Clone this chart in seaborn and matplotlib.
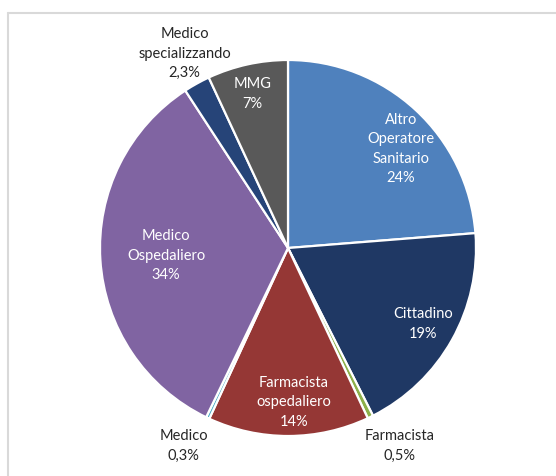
import numpy as np
import matplotlib
matplotlib.use("Agg")
import matplotlib.pyplot as plt
from matplotlib.lines import Line2D
import seaborn as sns

# Share of respondents by professional category (%)
categories = ["Altro\nOperatore\nSanitario", "Cittadino", "Farmacista",
              "Farmacista\nospedaliero", "Medico", "Medico\nOspedaliero",
              "Medico\nspecializzando", "MMG"]
shares = [24, 19, 0.5, 14, 0.3, 34, 2.3, 7]
share_labels = ["24%", "19%", "0,5%", "14%", "0,3%", "34%", "2,3%", "7%"]

colors = ["#4F81BD", "#1F3864", "#8DB04A", "#953735", "#4BACC6",
          "#8064A2", "#264478", "#595959"]
# label placement: radius (fraction of pie radius), angular nudge (deg), inside?
label_radius = [0.80, 0.825, 1.21, 0.82, 1.19, 0.65, 1.17, 0.84]
label_nudge = [6, 0, -3.5, -2, 2.5, 0, 1, -0.5]
label_inside = [True, True, False, True, False, True, False, True]

sns.set_theme(style="white")
plt.rcParams["font.family"] = ["Lato", "DejaVu Sans"]

W, H = 556, 476
fig = plt.figure(figsize=(W / 100, H / 100), dpi=100)
fig.patch.set_facecolor("white")

cx, cy, R = 288, 248, 188
ax = fig.add_axes([(cx - R) / W, (H - cy - R) / H, 2 * R / W, 2 * R / H])

wedges, _ = ax.pie(shares, colors=colors, startangle=90, counterclock=False,
                   radius=1.0, center=(0, 0),
                   wedgeprops=dict(edgecolor="white", linewidth=1.6))
ax.set_xlim(-1, 1)
ax.set_ylim(-1, 1)
ax.set_aspect("equal")
ax.axis("off")

total = float(np.sum(shares))
cum = np.cumsum([0] + list(shares))
for i, (cat, lab) in enumerate(zip(categories, share_labels)):
    mid = (cum[i] + cum[i + 1]) / 2 / total * 360 + label_nudge[i]
    theta = np.deg2rad(90 - mid)
    r = label_radius[i]
    x, y = r * np.cos(theta), r * np.sin(theta)
    ax.text(x, y, f"{cat}\n{lab}", ha="center", va="center",
            fontsize=10.5, linespacing=1.5,
            color="white" if label_inside[i] else "#262626",
            clip_on=False)

# light frame of the chart area
frame_kw = dict(color="#D9D9D9", linewidth=1.5, transform=fig.transFigure)
fig.add_artist(Line2D([8 / W, 8 / W], [0, 1 - 13 / H], **frame_kw))
fig.add_artist(Line2D([8 / W, 1], [1 - 13 / H, 1 - 13 / H], **frame_kw))

fig.savefig("out.png", dpi=100, facecolor="white")
